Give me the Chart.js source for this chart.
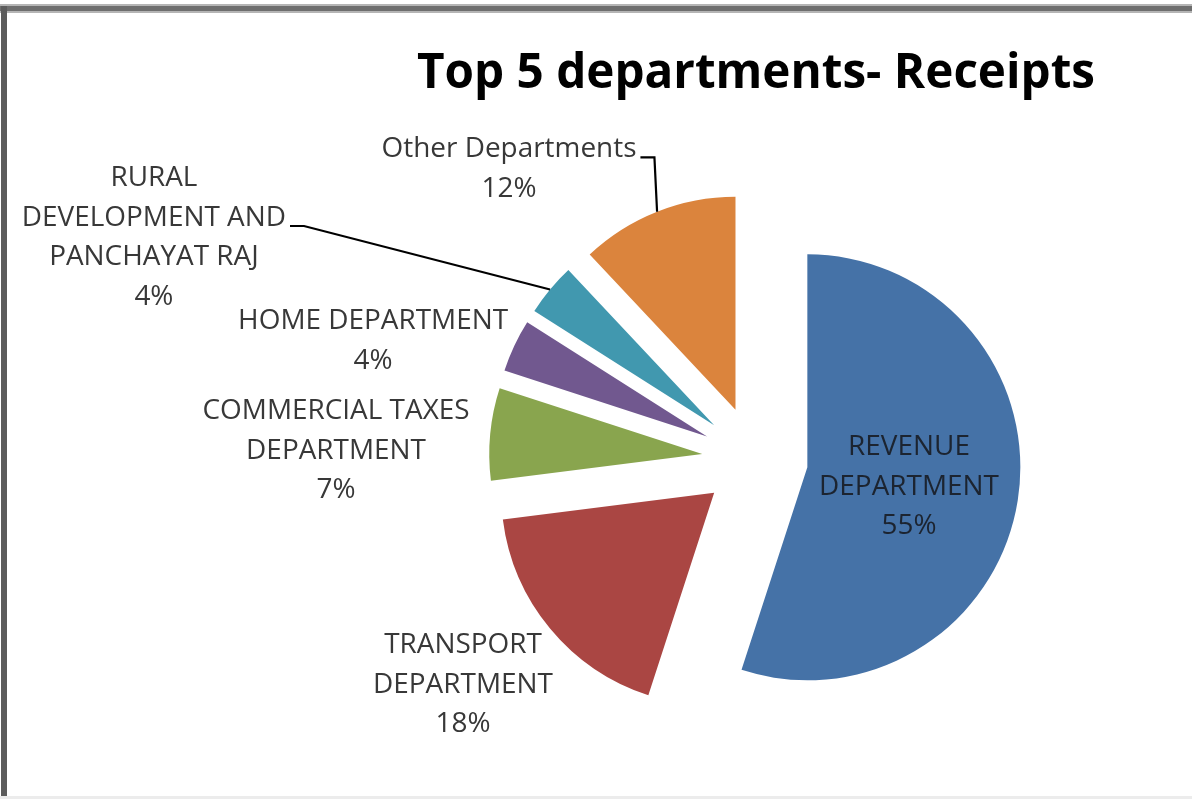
<!DOCTYPE html>
<html>
<head>
<meta charset="utf-8">
<title>Top 5 departments- Receipts</title>
<script src="https://cdn.jsdelivr.net/npm/chart.js@4.4.0/dist/chart.umd.min.js"></script>
<style>
  html, body { margin: 0; padding: 0; background: #fff; }
  #wrap { position: relative; width: 1192px; height: 799px; }
</style>
</head>
<body>
<div id="wrap"><canvas id="js--chart--receipts"></canvas></div>
<script>
const departments = [
    ["REVENUE", "DEPARTMENT"],
    ["TRANSPORT", "DEPARTMENT"],
    ["COMMERCIAL TAXES", "DEPARTMENT"],
    ["HOME DEPARTMENT"],
    ["RURAL", "DEVELOPMENT AND", "PANCHAYAT RAJ"],
    ["Other Departments"],
];
const receipts = [55, 18, 7, 4, 4, 12];
const sliceColors = ['#4572A7', '#AA4643', '#89A54E', '#71588F', '#4198AF', '#DB843D'];

const titleText = "Top 5 departments- Receipts";

// layout bits (not data)
const PIE_RADIUS = 213;
const EXPLODE = 53;
const LINE_H = 39.5;
// label block centre, relative to the pie centre, in radii
const labelSpots = [[0.723, 0.131], [-1.371, 1.061], [-1.967, -0.038], [-1.793, -0.554], [-2.822, -1.040], [-1.155, -1.362]];
const hasLeader = [false, false, false, false, true, true];
const labelInk = ['#1c2430', '#383838', '#383838', '#383838', '#383838', '#383838'];

const total = receipts.reduce((a, b) => a + b, 0);

function squeezeText(ctx, text, x, y, sx) {
    ctx.save();
    ctx.translate(x, y);
    ctx.scale(sx, 1);
    ctx.fillText(text, 0, 0);
    ctx.restore();
}

const explodePlugin = {
    id: 'explode',
    afterUpdate(chart) {
        chart.getDatasetMeta(0).data.forEach(arc => {
            const mid = (arc.startAngle + arc.endAngle) / 2;
            arc.x = arc.x + Math.cos(mid) * EXPLODE;
            arc.y = arc.y + Math.sin(mid) * EXPLODE;
        });
    }
};

const framePlugin = {
    id: 'frame',
    beforeDraw(chart) {
        const ctx = chart.ctx;
        const w = chart.width, h = chart.height;
        ctx.save();
        ctx.fillStyle = '#fff';
        ctx.fillRect(0, 0, w, h);
        ctx.fillStyle = '#b5b5b5';
        ctx.fillRect(0, 4, w, 9);
        ctx.fillStyle = '#6e6e6e';
        ctx.fillRect(0, 6, w, 5);
        ctx.fillStyle = '#5c5c5c';
        ctx.fillRect(1, 6, 6, h - 6);
        ctx.fillStyle = '#ececec';
        ctx.fillRect(0, h - 3, w, 3);

        // title
        ctx.fillStyle = '#000';
        ctx.font = 'bold 48px "Open Sans"';
        ctx.textAlign = 'center';
        ctx.textBaseline = 'alphabetic';
        const tw = ctx.measureText(titleText).width;
        squeezeText(ctx, titleText, 756, 88, 678 / tw);
        ctx.restore();
    }
};

const labelPlugin = {
    id: 'sliceLabels',
    afterDatasetsDraw(chart) {
        const ctx = chart.ctx;
        const meta = chart.getDatasetMeta(0);
        ctx.save();
        ctx.font = '28px "Open Sans"';
        ctx.textAlign = 'center';
        ctx.textBaseline = 'middle';
        const sx = 270 / ctx.measureText('HOME DEPARTMENT').width;
        meta.data.forEach((arc, i) => {
            const mid = (arc.startAngle + arc.endAngle) / 2;
            // pie centre before the slice was pulled out
            const px = arc.x - Math.cos(mid) * EXPLODE;
            const py = arc.y - Math.sin(mid) * EXPLODE;
            const bx = px + labelSpots[i][0] * arc.outerRadius;
            const by = py + labelSpots[i][1] * arc.outerRadius;
            const lines = departments[i].concat([Math.round(receipts[i] / total * 100) + '%']);
            const top = by - (lines.length - 1) * LINE_H / 2;
            ctx.fillStyle = labelInk[i];
            lines.forEach((t, k) => squeezeText(ctx, t, bx, top + k * LINE_H, sx));
            if (hasLeader[i]) {
                const wide = Math.max(...departments[i].map(t => ctx.measureText(t).width)) * sx;
                const ly = by - 11.5;
                const x0 = bx + wide / 2 + 4;
                ctx.beginPath();
                ctx.moveTo(x0, ly);
                ctx.lineTo(x0 + 14, ly);
                ctx.lineTo(arc.x + Math.cos(mid) * arc.outerRadius, arc.y + Math.sin(mid) * arc.outerRadius);
                ctx.strokeStyle = '#000';
                ctx.lineWidth = 2.2;
                ctx.stroke();
            }
        });
        ctx.restore();
    }
};

const data = {
    labels: departments.map(d => d.join(' ')),
    datasets: [
        {
            data: receipts,
            backgroundColor: sliceColors,
            borderWidth: 0,
            radius: PIE_RADIUS,
        }
    ]
};

const config = {
    type: 'pie',
    data: data,
    options: {
        responsive: true,
        maintainAspectRatio: false,
        animation: false,
        events: [],
        layout: { padding: { left: 318, right: 0, top: 119, bottom: 0 } },
        plugins: {
            legend: { display: false },
            tooltip: { enabled: false },
            title: { display: false },
        },
    },
    plugins: [explodePlugin, framePlugin, labelPlugin],
};

new Chart(document.getElementById("js--chart--receipts"), config);
</script>
</body>
</html>
